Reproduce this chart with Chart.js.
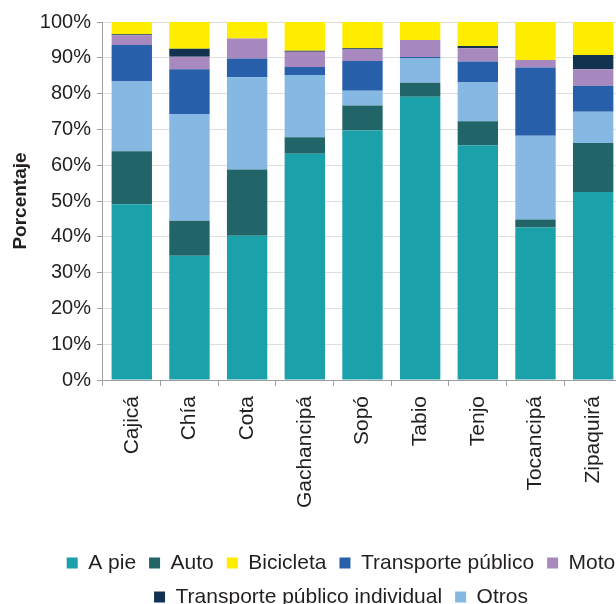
<!DOCTYPE html>
<html>
<head>
<meta charset="utf-8">
<script src="https://cdn.jsdelivr.net/npm/chart.js@4.4.1/dist/chart.umd.min.js"></script>
<style>
    html, body { margin: 0; padding: 0; background: #fff; overflow: hidden; }
    #wrap { width: 630px; height: 604px; }
</style>
</head>
<body>
<div id="wrap"><canvas id="myChart" width="630" height="604"></canvas></div>
<script>
// data ===============================================================
const municipios = ["Cajicá", "Chía", "Cota", "Gachancipá", "Sopó", "Tabio", "Tenjo", "Tocancipá", "Zipaquirá"];
const aPie       = [49.1, 34.7, 40.3, 63.2, 69.7, 79.1, 65.6, 42.6, 52.5];
const auto       = [14.8,  9.8, 18.5,  4.6,  7.0,  3.9,  6.7,  2.2, 13.7];
const otros      = [19.5, 29.8, 25.8, 17.4,  4.1,  6.8, 10.8, 23.4,  8.7];
const tPublico   = [10.2, 12.5,  5.2,  2.2,  8.3,  0.4,  5.9, 19.1,  7.3];
const moto       = [ 2.7,  3.5,  5.6,  4.3,  3.2,  4.8,  3.7,  2.1,  4.6];
const tpIndiv    = [ 0.3,  2.2,  0.0,  0.3,  0.4,  0.0,  0.6,  0.0,  4.0];
const bicicleta  = [ 3.4,  7.5,  4.6,  8.0,  7.3,  5.0,  6.7, 10.6,  9.2];
const yTicks     = [0, 10, 20, 30, 40, 50, 60, 70, 80, 90, 100];

// legend order differs from stacking order
const legendOrder = ["A pie", "Auto", "Bicicleta", "Transporte público", "Moto", "Transporte público individual", "Otros"];

const FONT = "'Liberation Sans', Arial, Helvetica, sans-serif";
const TXT = "#231f20";
const AXIS = "#a0a0a0";

// legend position ===============================================================
function moveLegend(cx, rowY) {
    return {
        id: 'moveLegend',
        afterLayout(chart) {
            const lg = chart.legend;
            const dx = cx - (lg.left + lg.right) / 2;
            lg.left += dx;
            lg.right += dx;
            const pad = lg.options.labels.padding;
            const fs = lg.options.labels.font.size;
            const top = rowY - pad - fs / 2;
            lg.top = top;
            lg.bottom = top + lg.height;
        }
    };
}

function ds(label, data, color) {
    return {
        label: label,
        data: data,
        backgroundColor: color,
        borderWidth: 0,
        barPercentage: 0.7,
        categoryPercentage: 1.0,
    };
}

function plot_bar() {
    let ctx = document.getElementById("myChart");
    let data = {
        labels: municipios,
        datasets: [
            ds("A pie", aPie, "#1ba1a9"),
            ds("Auto", auto, "#216568"),
            ds("Otros", otros, "#85b9e3"),
            ds("Transporte público", tPublico, "#285fab"),
            ds("Moto", moto, "#a889bf"),
            ds("Transporte público individual", tpIndiv, "#12324f"),
            ds("Bicicleta", bicicleta, "#ffed00"),
        ]
    };
    let options = {
        responsive: false,
        animation: false,
        devicePixelRatio: 1,
        layout: { padding: { top: 22, left: 4, right: 8, bottom: 0 } },
        plugins: {
            legend: {
                position: "bottom",
                labels: {
                    boxWidth: 11,
                    boxHeight: 11,
                    padding: 13,
                    color: TXT,
                    font: { family: FONT, size: 21 },
                    sort: (a, b) => legendOrder.indexOf(a.text) - legendOrder.indexOf(b.text),
                },
            },
            tooltip: { enabled: false },
        },
        scales: {
            x: {
                stacked: true,
                grid: {
                    display: true,
                    drawOnChartArea: false,
                    drawTicks: true,
                    tickLength: 6,
                    color: AXIS,
                },
                border: { color: AXIS, width: 1 },
                ticks: {
                    autoSkip: false,
                    minRotation: 90,
                    maxRotation: 90,
                    padding: 10,
                    color: TXT,
                    font: { family: FONT, size: 21 },
                },
                afterFit: (scale) => { scale.height = 146; },
            },
            y: {
                stacked: true,
                min: 0,
                max: 100,
                afterBuildTicks: (scale) => { scale.ticks = yTicks.map(v => ({ value: v })); },
                grid: {
                    color: "#dedede",
                    tickColor: AXIS,
                    tickLength: 6,
                    lineWidth: 1,
                },
                border: { color: AXIS, width: 1 },
                ticks: {
                    padding: 6,
                    color: TXT,
                    font: { family: FONT, size: 20 },
                    callback: (v) => v + "%",
                },
                title: {
                    display: true,
                    text: "Porcentaje",
                    color: TXT,
                    padding: { top: 5, bottom: 2 },
                    font: { family: FONT, size: 19, weight: "bold" },
                },
            },
        },
    };
    new Chart(ctx, {
        type: "bar",
        data: data,
        options: options,
        plugins: [moveLegend(341, 563)]
    });
}

plot_bar();
</script>
</body>
</html>
